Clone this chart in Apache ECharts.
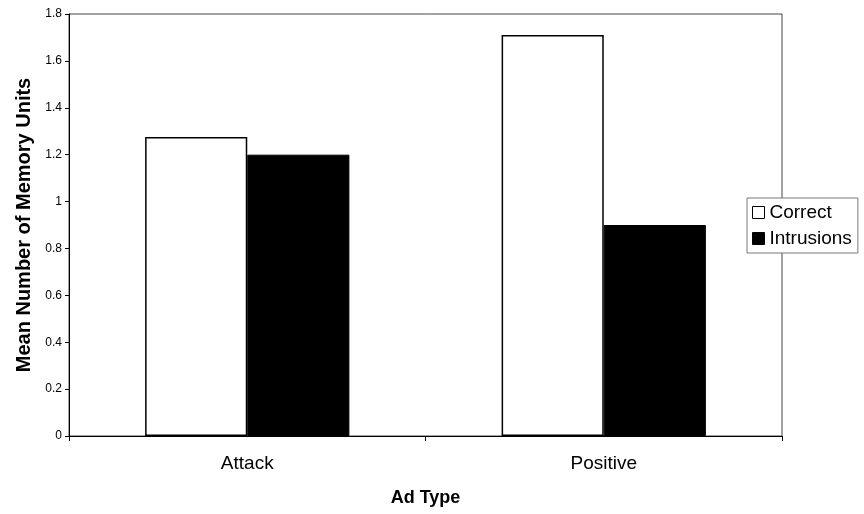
<!DOCTYPE html>
<html>
<head>
<meta charset="utf-8">
<script src="https://cdn.jsdelivr.net/npm/echarts@6/dist/echarts.min.js"></script>
<style>
html,body{margin:0;padding:0;background:#fff;}
#chart{width:864px;height:514px;}
</style>
</head>
<body>
<div id="chart"></div>
<script>
var categories = ['Attack', 'Positive'];
var correctValues = [1.275, 1.71];
var intrusionValues = [1.2, 0.9];
var seriesNames = ['Correct', 'Intrusions'];
var yAxisTitle = 'Mean Number of Memory Units';
var xAxisTitle = 'Ad Type';

var FONT = '"Liberation Sans", Arial, sans-serif';
var chart = echarts.init(document.getElementById('chart'), null, {renderer: 'canvas'});
chart.setOption({
  animation: false,
  backgroundColor: '#fff',
  grid: {left: 69, right: 82, top: 14, bottom: 78, show: true, borderColor: '#444', borderWidth: 1, backgroundColor: 'transparent'},
  legend: {
    orient: 'vertical',
    left: 747, top: 198,
    padding: [5, 6, 5, 5],
    itemWidth: 12, itemHeight: 12, itemGap: 7,
    borderColor: '#777', borderWidth: 1, backgroundColor: '#fff',
    textStyle: {fontFamily: FONT, fontSize: 19, color: '#000'},
    data: [
      {name: seriesNames[0], icon: 'rect', itemStyle: {color: '#fff', borderColor: '#000', borderWidth: 1}},
      {name: seriesNames[1], icon: 'rect', itemStyle: {color: '#000', borderColor: '#000', borderWidth: 1}}
    ]
  },
  xAxis: {
    type: 'category',
    data: categories,
    boundaryGap: true,
    name: xAxisTitle,
    nameLocation: 'middle',
    nameGap: 53,
    nameTextStyle: {fontFamily: FONT, fontSize: 18, fontWeight: 'bold', color: '#000'},
    axisLine: {lineStyle: {color: '#000', width: 1}},
    axisTick: {show: true, inside: false, length: 5, alignWithLabel: false, lineStyle: {color: '#000'}},
    axisLabel: {fontFamily: FONT, fontSize: 19, color: '#000', margin: 18},
    splitLine: {show: false}
  },
  yAxis: {
    type: 'value',
    min: 0, max: 1.8, interval: 0.2,
    name: yAxisTitle,
    nameLocation: 'middle',
    nameGap: 25,
    nameTextStyle: {fontFamily: FONT, fontSize: 20, fontWeight: 'bold', color: '#000'},
    axisLine: {show: true, lineStyle: {color: '#000', width: 1}},
    axisTick: {show: true, inside: false, length: 4, lineStyle: {color: '#000'}},
    axisLabel: {fontFamily: FONT, fontSize: 12, color: '#000', margin: 7},
    splitLine: {show: false}
  },
  series: [
    {
      name: seriesNames[0], type: 'bar', data: correctValues,
      barGap: '0%', barCategoryGap: '42.7%',
      itemStyle: {color: '#fff', borderColor: '#000', borderWidth: 1.5}
    },
    {
      name: seriesNames[1], type: 'bar', data: intrusionValues,
      barGap: '0%', barCategoryGap: '42.7%',
      itemStyle: {color: '#000', borderColor: '#000', borderWidth: 1}
    }
  ]
});
</script>
</body>
</html>
